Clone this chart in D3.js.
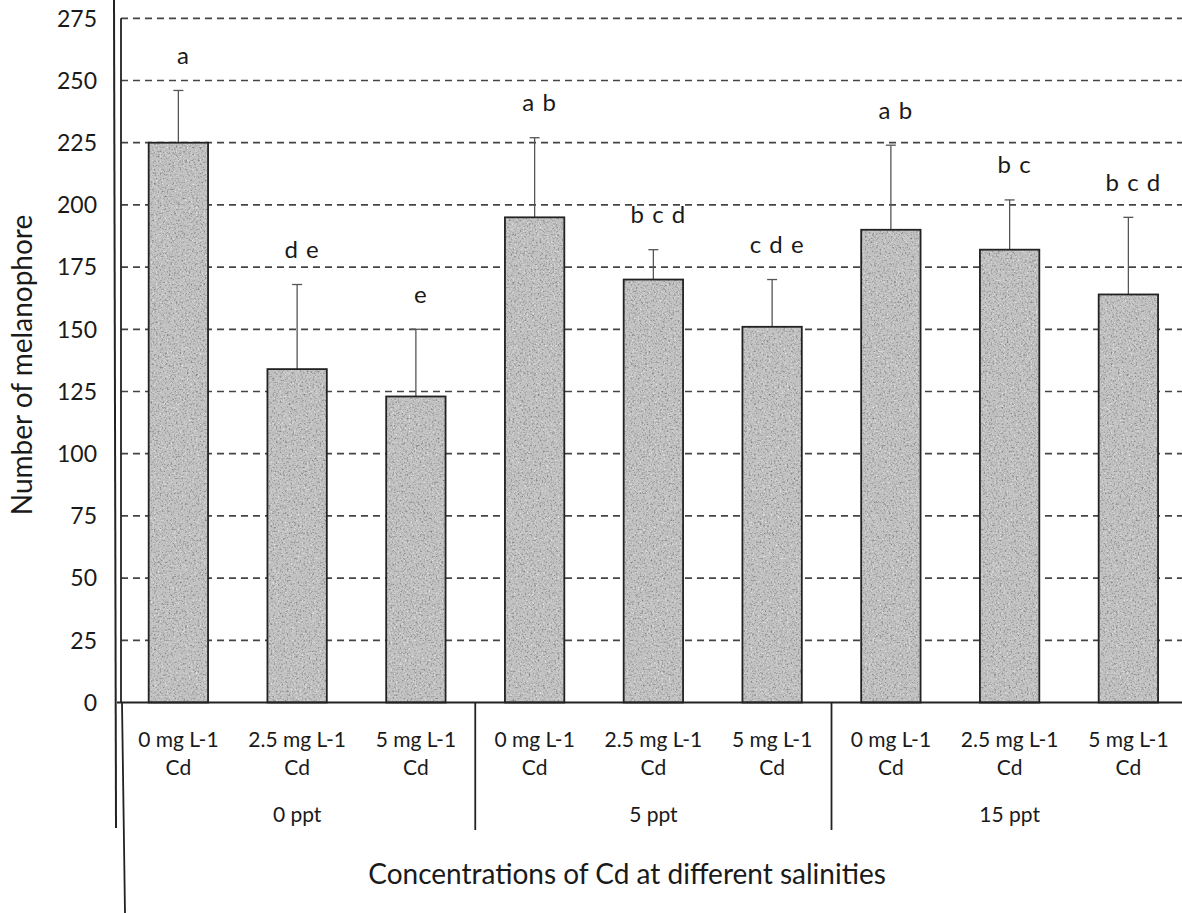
<!DOCTYPE html>
<html>
<head>
<meta charset="utf-8">
<script src="https://cdn.jsdelivr.net/npm/d3@7"></script>
<style>
  html, body { margin: 0; padding: 0; background: #fff; }
  svg { display: block; }
  text { font-family: Lato, "Noto Sans", sans-serif; fill: #1a1a1a; }
</style>
</head>
<body>
<svg id="chart" width="1182" height="913"></svg>
<script>
// Mean number of melanophores per treatment (Cd dose within salinity)
const doses = ["0 mg L-1", "2.5 mg L-1", "5 mg L-1", "0 mg L-1", "2.5 mg L-1", "5 mg L-1", "0 mg L-1", "2.5 mg L-1", "5 mg L-1"];
const salinities = ["0 ppt", "5 ppt", "15 ppt"];
const meanValues = [225, 134, 123, 195, 170, 151, 190, 182, 164];
const upperError = [246, 168, 150, 227, 182, 170, 224, 202, 195];
const groupLetters = ["a", "d e", "e", "a b", "b c d", "c d e", "a b", "b c", "b c d"];
const yTicks = [0, 25, 50, 75, 100, 125, 150, 175, 200, 225, 250, 275];

const svg = d3.select("#chart");
const W = 1182, H = 913;
const plotLeft = 119, step = 118.75;
const yBase = 702.5, yTop = 18.3;

const x = d3.scaleBand()
  .domain(d3.range(meanValues.length))
  .range([plotLeft, plotLeft + step * meanValues.length])
  .padding(0);
const y = d3.scaleLinear().domain([0, 275]).range([yBase, yTop]);
const barW = x.bandwidth() * 0.5;

// Grainy grey fill for the bars
const defs = svg.append("defs");
const f = defs.append("filter").attr("id", "grain")
  .attr("x", 0).attr("y", 0).attr("width", 1).attr("height", 1)
  .attr("color-interpolation-filters", "sRGB");
f.append("feTurbulence").attr("type", "fractalNoise")
  .attr("baseFrequency", 0.55).attr("numOctaves", 2).attr("seed", 7).attr("result", "noise");
// dark specks
f.append("feColorMatrix").attr("in", "noise").attr("type", "matrix")
  .attr("values", "0 0 0 0 0.5  0 0 0 0 0.5  0 0 0 0 0.5  3 0 0 0 -1.55")
  .attr("result", "dark");
// light specks
f.append("feColorMatrix").attr("in", "noise").attr("type", "matrix")
  .attr("values", "0 0 0 0 0.93  0 0 0 0 0.93  0 0 0 0 0.93  0 -3 0 0 1.3")
  .attr("result", "light");
f.append("feFlood").attr("flood-color", "#c2c2c2").attr("result", "base");
f.append("feComposite").attr("in", "light").attr("in2", "base").attr("operator", "over").attr("result", "t1");
f.append("feComposite").attr("in", "dark").attr("in2", "t1").attr("operator", "over").attr("result", "tex");
f.append("feComposite").attr("in", "tex").attr("in2", "SourceGraphic").attr("operator", "in");

// Dashed horizontal gridlines
svg.append("g").selectAll("line")
  .data(yTicks.filter(d => d > 0))
  .join("line")
  .attr("x1", 121).attr("x2", W)
  .attr("y1", d => y(d)).attr("y2", d => y(d))
  .attr("stroke", "#444").attr("stroke-width", 1.7)
  .attr("stroke-dasharray", "7,5");

// Y tick labels
svg.append("g").selectAll("text")
  .data(yTicks)
  .join("text")
  .attr("x", 97).attr("y", d => y(d))
  .attr("dy", "0.36em")
  .attr("text-anchor", "end")
  .attr("font-size", 23)
  .text(d => d);

// Error bars (upper whisker only)
const err = svg.append("g").attr("stroke", "#555").attr("stroke-width", 1.3);
err.selectAll("line.v").data(meanValues).join("line").attr("class", "v")
  .attr("x1", (d, i) => x(i) + x.bandwidth() / 2)
  .attr("x2", (d, i) => x(i) + x.bandwidth() / 2)
  .attr("y1", d => y(d))
  .attr("y2", (d, i) => y(upperError[i]));
err.selectAll("line.c").data(upperError).join("line").attr("class", "c")
  .attr("x1", (d, i) => x(i) + x.bandwidth() / 2 - 5)
  .attr("x2", (d, i) => x(i) + x.bandwidth() / 2 + 5)
  .attr("y1", d => y(d)).attr("y2", d => y(d));

// Bars
const bars = svg.append("g");
bars.selectAll("rect.fill").data(meanValues).join("rect").attr("class", "fill")
  .attr("x", (d, i) => x(i) + (x.bandwidth() - barW) / 2)
  .attr("y", d => y(d))
  .attr("width", barW)
  .attr("height", d => yBase - y(d))
  .attr("fill", "#bdbdbd")
  .attr("filter", "url(#grain)");
bars.selectAll("rect.edge").data(meanValues).join("rect").attr("class", "edge")
  .attr("x", (d, i) => x(i) + (x.bandwidth() - barW) / 2)
  .attr("y", d => y(d))
  .attr("width", barW)
  .attr("height", d => yBase - y(d))
  .attr("fill", "none")
  .attr("stroke", "#222").attr("stroke-width", 1.8);

// Significance letters above the whiskers
svg.append("g").selectAll("text")
  .data(groupLetters)
  .join("text")
  .attr("x", (d, i) => x(i) + x.bandwidth() / 2 + 5)
  .attr("y", (d, i) => y(upperError[i] + 14))
  .attr("dy", "0.35em")
  .attr("text-anchor", "middle")
  .attr("font-size", 24)
  .attr("letter-spacing", 1)
  .text(d => d);

// Axis frame lines
const axis = svg.append("g").attr("stroke", "#222");
axis.append("line").attr("x1", 121).attr("x2", 121).attr("y1", yTop).attr("y2", yBase)
  .attr("stroke-width", 1.8);
axis.append("line").attr("x1", 117).attr("x2", W).attr("y1", yBase).attr("y2", yBase)
  .attr("stroke-width", 2.2);
axis.append("line").attr("x1", 114).attr("x2", 116).attr("y1", 0).attr("y2", 828)
  .attr("stroke-width", 2);
axis.append("line").attr("x1", 122).attr("x2", 125).attr("y1", yBase).attr("y2", H)
  .attr("stroke-width", 1.8);

// Group separators on the category axis
axis.selectAll("line.sep")
  .data(d3.range(1, salinities.length + 1))
  .join("line").attr("class", "sep")
  .attr("x1", g => plotLeft + g * 3 * step).attr("x2", g => plotLeft + g * 3 * step)
  .attr("y1", yBase).attr("y2", 830)
  .attr("stroke-width", 1.8);

// Dose labels (two lines)
const cat = svg.append("g").attr("font-size", 21).attr("text-anchor", "middle");
cat.selectAll("text.dose").data(doses).join("text").attr("class", "dose")
  .attr("x", (d, i) => x(i) + x.bandwidth() / 2)
  .attr("y", 747)
  .text(d => d);
cat.selectAll("text.cd").data(doses).join("text").attr("class", "cd")
  .attr("x", (d, i) => x(i) + x.bandwidth() / 2)
  .attr("y", 775)
  .text("Cd");

// Salinity group labels
cat.selectAll("text.sal").data(salinities).join("text").attr("class", "sal")
  .attr("x", (d, g) => plotLeft + (g * 3 + 1.5) * step)
  .attr("y", 822)
  .text(d => d);

// Axis titles
svg.append("text")
  .attr("x", 627).attr("y", 884)
  .attr("text-anchor", "middle")
  .attr("font-size", 28)
  .text("Concentrations of Cd at different salinities");

svg.append("text")
  .attr("transform", "translate(32,365) rotate(-90)")
  .attr("text-anchor", "middle")
  .attr("font-size", 28)
  .text("Number of melanophore");
</script>
</body>
</html>
